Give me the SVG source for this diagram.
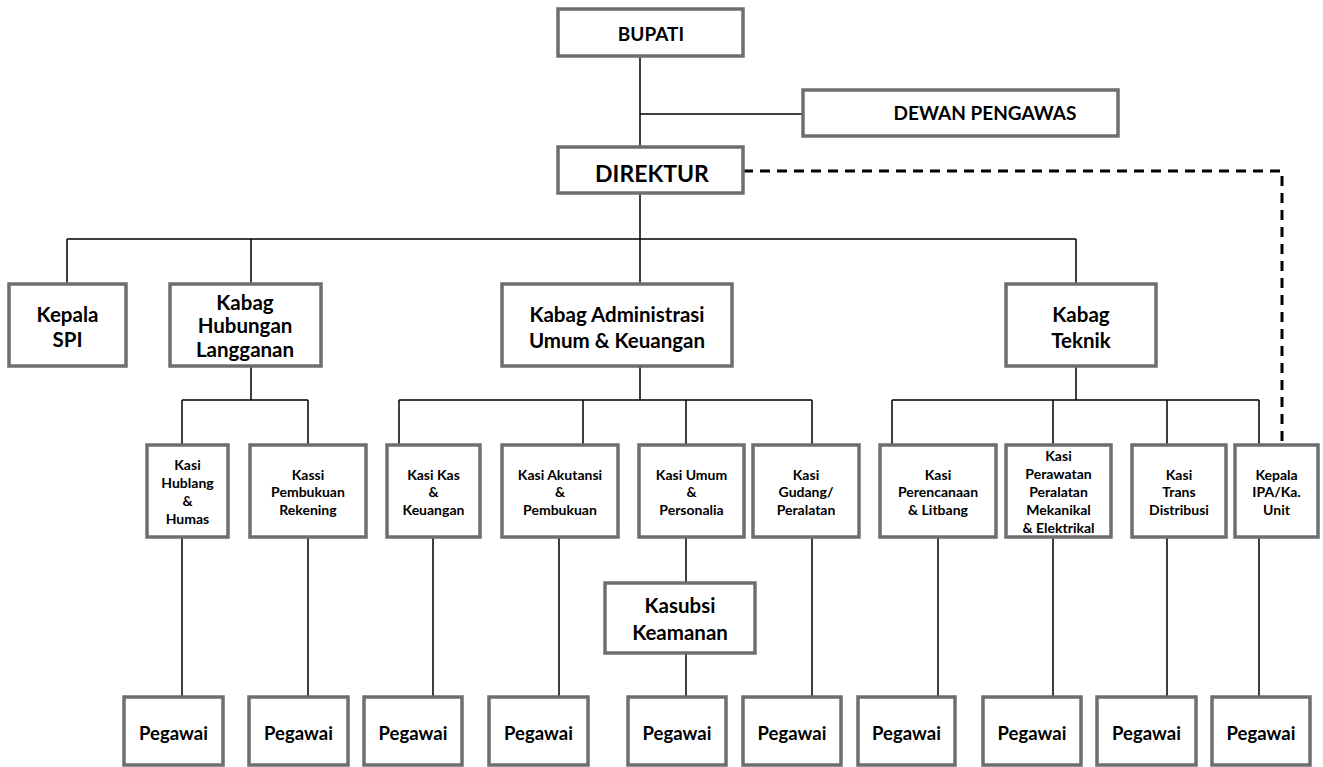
<svg xmlns="http://www.w3.org/2000/svg" width="1323" height="767" viewBox="0 0 1323 767">
<style>
.box{fill:#ffffff;stroke:#6e6e6e;stroke-width:3.5}
.ln{fill:none;stroke:#000000;stroke-width:1.5}
.dash{fill:none;stroke:#000000;stroke-width:3;stroke-dasharray:10 7}
text{font-family:Lato,"Open Sans","Liberation Sans",sans-serif;font-weight:bold;fill:#000000;text-anchor:middle}
.t19{font-size:19px}
.t23{font-size:23px}
.t20{font-size:20.5px}
.t14{font-size:14px}
.t18{font-size:18.5px}
</style>
<rect width="1323" height="767" fill="#ffffff"/>
<g id="connectors">
<path class="ln" d="M640,56V147M640,114H803M640,193V239M67,239H1076M67,239V284M251,239V284M640,239V284M1076,239V284"/>
<path class="ln" d="M251,366V400M182,400H308M182,400V445M308,400V445"/>
<path class="ln" d="M640,366V400M399,400H812M399,400V445M583,400V445M686,400V445M812,400V445"/>
<path class="ln" d="M1076,366V400M892,400H1259M892,400V445M1053,400V445M1167,400V445M1259,400V445"/>
<path class="ln" d="M182,537V697M308,537V697M433,537V697M559,537V697M686,537V583M686,653V697M812,537V697M938,537V697M1053,537V697M1167,537V697M1259,537V697"/>
<path class="dash" d="M743,171H1282V443"/>
</g>
<g id="bupati"><rect class="box" x="558" y="9" width="185" height="47"/><text class="t19" x="651" y="41">BUPATI</text></g>
<g id="dewan"><rect class="box" x="803" y="90" width="315" height="46"/><text class="t19" x="985" y="120">DEWAN PENGAWAS</text></g>
<g id="direktur"><rect class="box" x="558" y="147" width="185" height="46"/><text class="t23" x="652" y="182">DIREKTUR</text></g>
<g id="spi"><rect class="box" x="9" y="284" width="117" height="82"/><text class="t20" x="67.5"><tspan x="67.5" y="322">Kepala</tspan><tspan x="67.5" y="347">SPI</tspan></text></g>
<g id="kabag-hubungan"><rect class="box" x="170" y="284" width="151" height="82"/><text class="t20"><tspan x="245" y="310">Kabag</tspan><tspan x="245" y="333">Hubungan</tspan><tspan x="245" y="357">Langganan</tspan></text></g>
<g id="kabag-admin"><rect class="box" x="502" y="284" width="230" height="82"/><text class="t20"><tspan x="617" y="322">Kabag Administrasi</tspan><tspan x="617" y="348">Umum &amp; Keuangan</tspan></text></g>
<g id="kabag-teknik"><rect class="box" x="1006" y="284" width="150" height="82"/><text class="t20"><tspan x="1081" y="322">Kabag</tspan><tspan x="1081" y="348">Teknik</tspan></text></g>
<g id="kasi-hublang"><rect class="box" x="147" y="445" width="81" height="92"/><text class="t14"><tspan x="187.5" y="470">Kasi</tspan><tspan x="187.5" y="488">Hublang</tspan><tspan x="187.5" y="506">&amp;</tspan><tspan x="187.5" y="524">Humas</tspan></text></g>
<g id="kassi-pembukuan"><rect class="box" x="250" y="445" width="116" height="92"/><text class="t14"><tspan x="308" y="480">Kassi</tspan><tspan x="308" y="497">Pembukuan</tspan><tspan x="308" y="515">Rekening</tspan></text></g>
<g id="kasi-kas"><rect class="box" x="387" y="445" width="93" height="92"/><text class="t14"><tspan x="433.5" y="480">Kasi  Kas</tspan><tspan x="433.5" y="497">&amp;</tspan><tspan x="433.5" y="515">Keuangan</tspan></text></g>
<g id="kasi-akutansi"><rect class="box" x="502" y="445" width="116" height="92"/><text class="t14"><tspan x="560" y="480">Kasi  Akutansi</tspan><tspan x="560" y="497">&amp;</tspan><tspan x="560" y="515">Pembukuan</tspan></text></g>
<g id="kasi-umum"><rect class="box" x="639" y="445" width="105" height="92"/><text class="t14"><tspan x="691.5" y="480">Kasi  Umum</tspan><tspan x="691.5" y="497">&amp;</tspan><tspan x="691.5" y="515">Personalia</tspan></text></g>
<g id="kasi-gudang"><rect class="box" x="753" y="445" width="106" height="92"/><text class="t14"><tspan x="806" y="480">Kasi</tspan><tspan x="806" y="497">Gudang/</tspan><tspan x="806" y="515">Peralatan</tspan></text></g>
<g id="kasi-perencanaan"><rect class="box" x="880" y="445" width="116" height="92"/><text class="t14"><tspan x="938" y="480">Kasi</tspan><tspan x="938" y="497">Perencanaan</tspan><tspan x="938" y="515">&amp; Litbang</tspan></text></g>
<g id="kasi-perawatan"><rect class="box" x="1006" y="445" width="105" height="92"/><text class="t14"><tspan x="1058.5" y="461">Kasi</tspan><tspan x="1058.5" y="479">Perawatan</tspan><tspan x="1058.5" y="497">Peralatan</tspan><tspan x="1058.5" y="515">Mekanikal</tspan><tspan x="1058.5" y="533">&amp; Elektrikal</tspan></text></g>
<g id="kasi-trans"><rect class="box" x="1132" y="445" width="94" height="92"/><text class="t14"><tspan x="1179" y="480">Kasi</tspan><tspan x="1179" y="497">Trans</tspan><tspan x="1179" y="515">Distribusi</tspan></text></g>
<g id="kepala-ipa"><rect class="box" x="1235" y="445" width="83" height="92"/><text class="t14"><tspan x="1276.5" y="480">Kepala</tspan><tspan x="1276.5" y="497">IPA/Ka.</tspan><tspan x="1276.5" y="515">Unit</tspan></text></g>
<g id="kasubsi"><rect class="box" x="605" y="583" width="150" height="70"/><text class="t20"><tspan x="680" y="613">Kasubsi</tspan><tspan x="680" y="640">Keamanan</tspan></text></g>
<g id="pegawai-1"><rect class="box" x="124" y="697" width="99" height="68"/><text class="t18" x="173.5" y="740">Pegawai</text></g>
<g id="pegawai-2"><rect class="box" x="249" y="697" width="99" height="68"/><text class="t18" x="298.5" y="740">Pegawai</text></g>
<g id="pegawai-3"><rect class="box" x="364" y="697" width="98" height="68"/><text class="t18" x="413" y="740">Pegawai</text></g>
<g id="pegawai-4"><rect class="box" x="489" y="697" width="99" height="68"/><text class="t18" x="538.5" y="740">Pegawai</text></g>
<g id="pegawai-5"><rect class="box" x="628" y="697" width="98" height="68"/><text class="t18" x="677" y="740">Pegawai</text></g>
<g id="pegawai-6"><rect class="box" x="743" y="697" width="98" height="68"/><text class="t18" x="792" y="740">Pegawai</text></g>
<g id="pegawai-7"><rect class="box" x="858" y="697" width="97" height="68"/><text class="t18" x="906.5" y="740">Pegawai</text></g>
<g id="pegawai-8"><rect class="box" x="983" y="697" width="98" height="68"/><text class="t18" x="1032" y="740">Pegawai</text></g>
<g id="pegawai-9"><rect class="box" x="1097" y="697" width="99" height="68"/><text class="t18" x="1146.5" y="740">Pegawai</text></g>
<g id="pegawai-10"><rect class="box" x="1212" y="697" width="98" height="68"/><text class="t18" x="1261" y="740">Pegawai</text></g>
</svg>
